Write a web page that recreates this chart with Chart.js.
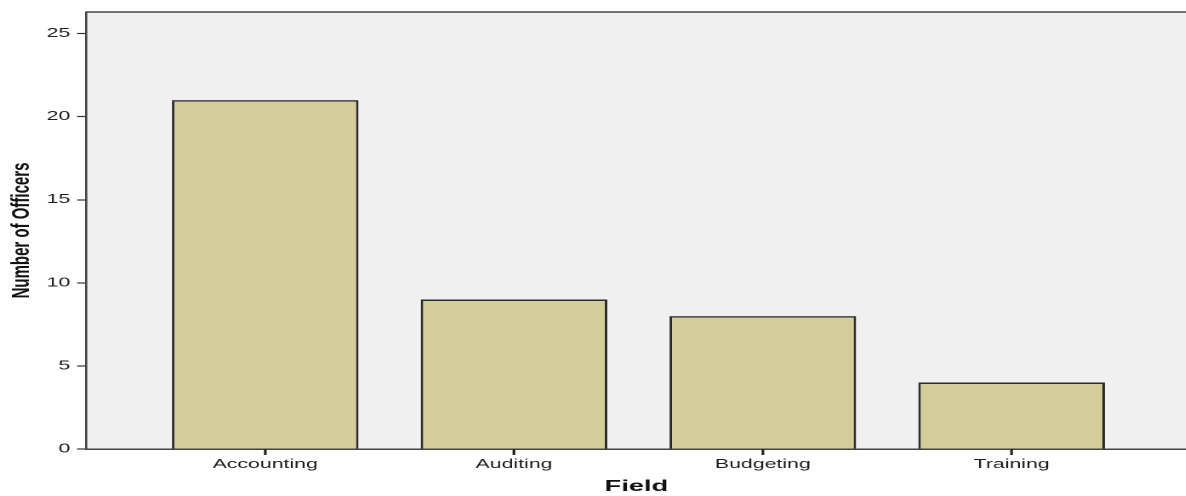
<!DOCTYPE html>
<html>
<head>
<meta charset="utf-8">
<script src="https://cdn.jsdelivr.net/npm/chart.js@4.4.1/dist/chart.umd.min.js"></script>
<style>
  html, body { margin: 0; padding: 0; background: #fff; overflow: hidden; }
  /* the reference is stretched sideways, so draw narrow and stretch */
  #wrap { width: 697.6px; height: 496px; transform: scaleX(1.7); transform-origin: 0 0; }
</style>
</head>
<body>
<div id="wrap"><canvas id="barChart"></canvas></div>
<script>
// Data
const fields = ['Accounting', 'Auditing', 'Budgeting', 'Training'];
const officers = [21, 9, 8, 4];
const yTicks = [0, 5, 10, 15, 20, 25];

const FONT = '"Liberation Sans", Arial, sans-serif';
const INK = '#1e1e1e';

// plot background, top frame line and category tick marks
const plotFrame = {
    id: 'plotFrame',
    beforeDraw(chart) {
        const { ctx, chartArea: a } = chart;
        ctx.save();
        ctx.fillStyle = '#f0f0f0';
        ctx.fillRect(a.left, a.top, a.right - a.left, a.bottom - a.top);
        ctx.restore();
    },
    afterDraw(chart) {
        const { ctx, chartArea: a } = chart;
        const xs = chart.scales.x;
        ctx.save();
        ctx.strokeStyle = '#444';
        ctx.lineWidth = 1.5;
        ctx.beginPath();
        ctx.moveTo(a.left, a.top);
        ctx.lineTo(a.right, a.top);
        ctx.stroke();
        ctx.strokeStyle = '#222';
        ctx.lineWidth = 1.3;
        fields.forEach((f, i) => {
            const px = xs.getPixelForValue(i);
            ctx.beginPath();
            ctx.moveTo(px, a.bottom);
            ctx.lineTo(px, a.bottom + 6);
            ctx.stroke();
        });
        ctx.restore();
    }
};

const ctxBar = document.getElementById('barChart').getContext('2d');
new Chart(ctxBar, {
    type: 'bar',
    data: {
        datasets: [{
            label: 'Number of Officers',
            data: fields.map((f, i) => ({ x: i, y: officers[i] })),
            backgroundColor: '#d3ce99',
            borderColor: '#2b2b2b',
            borderWidth: 1.5,
            barPercentage: 0.75,
            categoryPercentage: 1
        }]
    },
    options: {
        responsive: true,
        maintainAspectRatio: false,
        animation: false,
        devicePixelRatio: 2,
        layout: { padding: { top: 12, right: 0, left: 0, bottom: 0 } },
        plugins: {
            legend: { display: false },
            tooltip: { enabled: false }
        },
        scales: {
            x: {
                type: 'linear',
                min: -0.72,
                max: 3.704,
                offset: false,
                afterBuildTicks: (s) => { s.ticks = fields.map((f, i) => ({ value: i })); },
                afterFit: (s) => { s.height = 47; },
                ticks: {
                    autoSkip: false,
                    maxRotation: 0,
                    padding: 2,
                    color: INK,
                    font: { family: FONT, size: 12.5 },
                    callback: (v) => fields[v]
                },
                grid: {
                    offset: false,
                    drawOnChartArea: false,
                    drawTicks: true,
                    tickLength: 6,
                    tickWidth: 1.4,
                    tickColor: '#222'
                },
                border: { display: true, color: '#444', width: 1.5 },
                title: {
                    display: true,
                    text: 'Field',
                    color: '#111',
                    padding: 0,
                    font: { family: FONT, size: 16, weight: 'bold' }
                }
            },
            y: {
                min: 0,
                max: 26.3,
                afterBuildTicks: (s) => { s.ticks = yTicks.map(v => ({ value: v })); },
                afterFit: (s) => { s.width = 50.6; },
                ticks: {
                    padding: 4,
                    color: INK,
                    font: { family: FONT, size: 12.5 }
                },
                grid: {
                    drawOnChartArea: false,
                    drawTicks: true,
                    tickLength: 5.3,
                    tickWidth: 1.2,
                    tickColor: '#333'
                },
                border: { display: true, color: '#444', width: 1.3 },
                title: {
                    display: true,
                    text: 'Number of Officers',
                    color: '#111',
                    padding: { top: 4, bottom: 0 },
                    font: { family: FONT, size: 15, weight: 'bold' }
                }
            }
        }
    },
    plugins: [plotFrame]
});
</script>
</body>
</html>
